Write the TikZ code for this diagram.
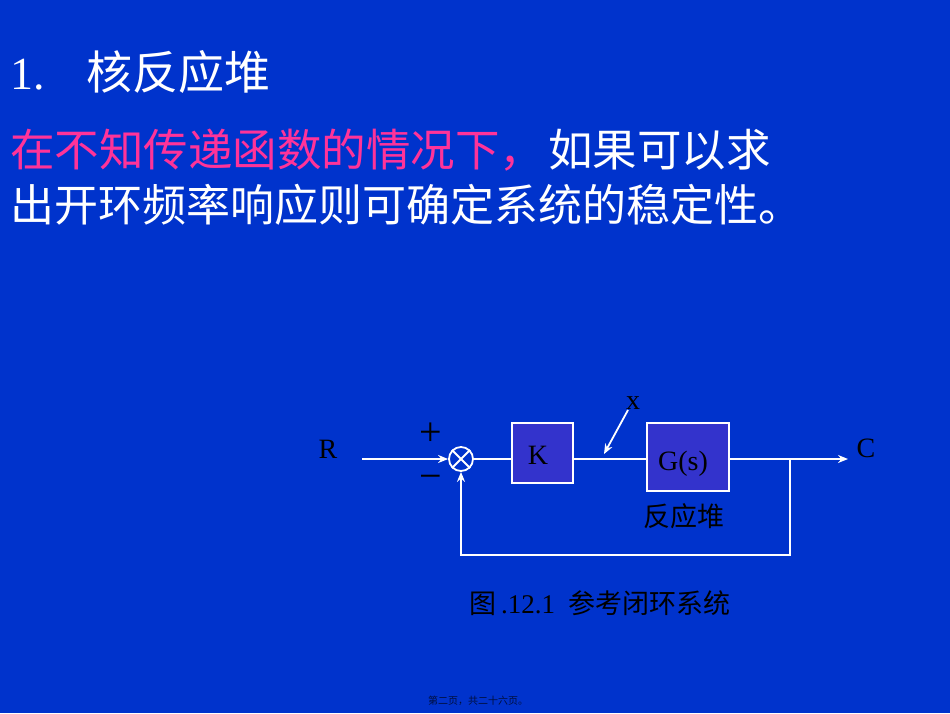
\documentclass[tikz,border=0pt]{standalone}
\usepackage{fontspec}
\setmainfont{Liberation Serif}
\newfontfamily\cjk{Noto Sans CJK SC}
\usetikzlibrary{arrows.meta}
\definecolor{bg}{HTML}{0033CC}
\definecolor{boxc}{HTML}{3333CC}
\definecolor{pinkc}{HTML}{FF3399}
\begin{document}
\begin{tikzpicture}[x=1pt,y=-1pt,
  wire/.style={white,line width=1.8pt},
  arr/.style={wire,-{Stealth[length=10pt,width=8pt]}},
  blk/.style={draw=white,line width=1.8pt,fill=boxc,inner sep=0pt},
  lbl/.style={font=\fontsize{28}{30}\selectfont,text=black,inner sep=0pt}]
\fill[bg] (0,0) rectangle (950,713);
\useasboundingbox (0,0) rectangle (950,713);
\node[anchor=west,white,inner sep=0pt,font=\fontsize{46}{50}\selectfont] (t) at (10,72) {1.\hspace{42pt}{\cjk\fontsize{46}{50}\selectfont 核反应堆}};
\node[anchor=west,inner sep=0pt,font=\cjk\fontsize{44.5}{48}\selectfont] (l1) at (10,150) {\textcolor{pinkc}{在不知传递函数的情况下，}\hspace{4pt}\textcolor{white}{如果可以求}};
\node[anchor=west,inner sep=0pt,white,font=\cjk\fontsize{44}{48}\selectfont] (l2) at (10,205) {出开环频率响应则可确定系统的稳定性。};
% diagram
\node[lbl] (R) at (328,449) {R};
\node[lbl] (C) at (866,448) {C};
\node[circle,draw=white,line width=1.8pt,minimum size=24pt,inner sep=0pt] (s) at (461,459) {};
\draw[white,line width=1.8pt] (s.north west)--(s.south east) (s.north east)--(s.south west);
\node[blk,minimum width=61pt,minimum height=60pt] (K) at (542.5,453) {};
\node[lbl] at (538,455) {K};
\node[blk,minimum width=82pt,minimum height=68pt] (G) at (688,457) {};
\node[lbl] at (683,464) {G(s)};
\node[lbl,font=\cjk\fontsize{27}{28}\selectfont] (fy) at (684,516) {反应堆};
\node[lbl,font=\fontsize{40}{40}\selectfont] (plus) at (431,434) {+};
\node[lbl,font=\fontsize{40}{40}\selectfont] (minus) at (431,482) {\textminus};
\node[lbl] (xl) at (633,403) {x};
\coordinate (rin) at (362,459);
\coordinate (br) at (790,459);
\coordinate (cout) at (848,459);
\coordinate (xt) at (604,454);
\draw[arr] (rin) -- (s.west);
\draw[wire] (s.east) -- (K.west|-s.east);
\draw[wire] (K.east|-s.east) -- (G.west|-s.east);
\draw[arr] (G.east|-s.east) -- (cout);
\draw[arr] (br) -- (790,555) -- (461,555) -- (s.south);
\draw[arr] (628,410) -- (xt);
\node[lbl,font=\fontsize{27}{28}\selectfont] (cap) at (600,603) {{\cjk 图}\,.12.1\ \ {\cjk 参考闭环系统}};
\node[inner sep=0pt,text=black!70!bg,font=\cjk\fontsize{10}{12}\selectfont] (foot) at (478,701) {第二页，共二十六页。};
\end{tikzpicture}
\end{document}
